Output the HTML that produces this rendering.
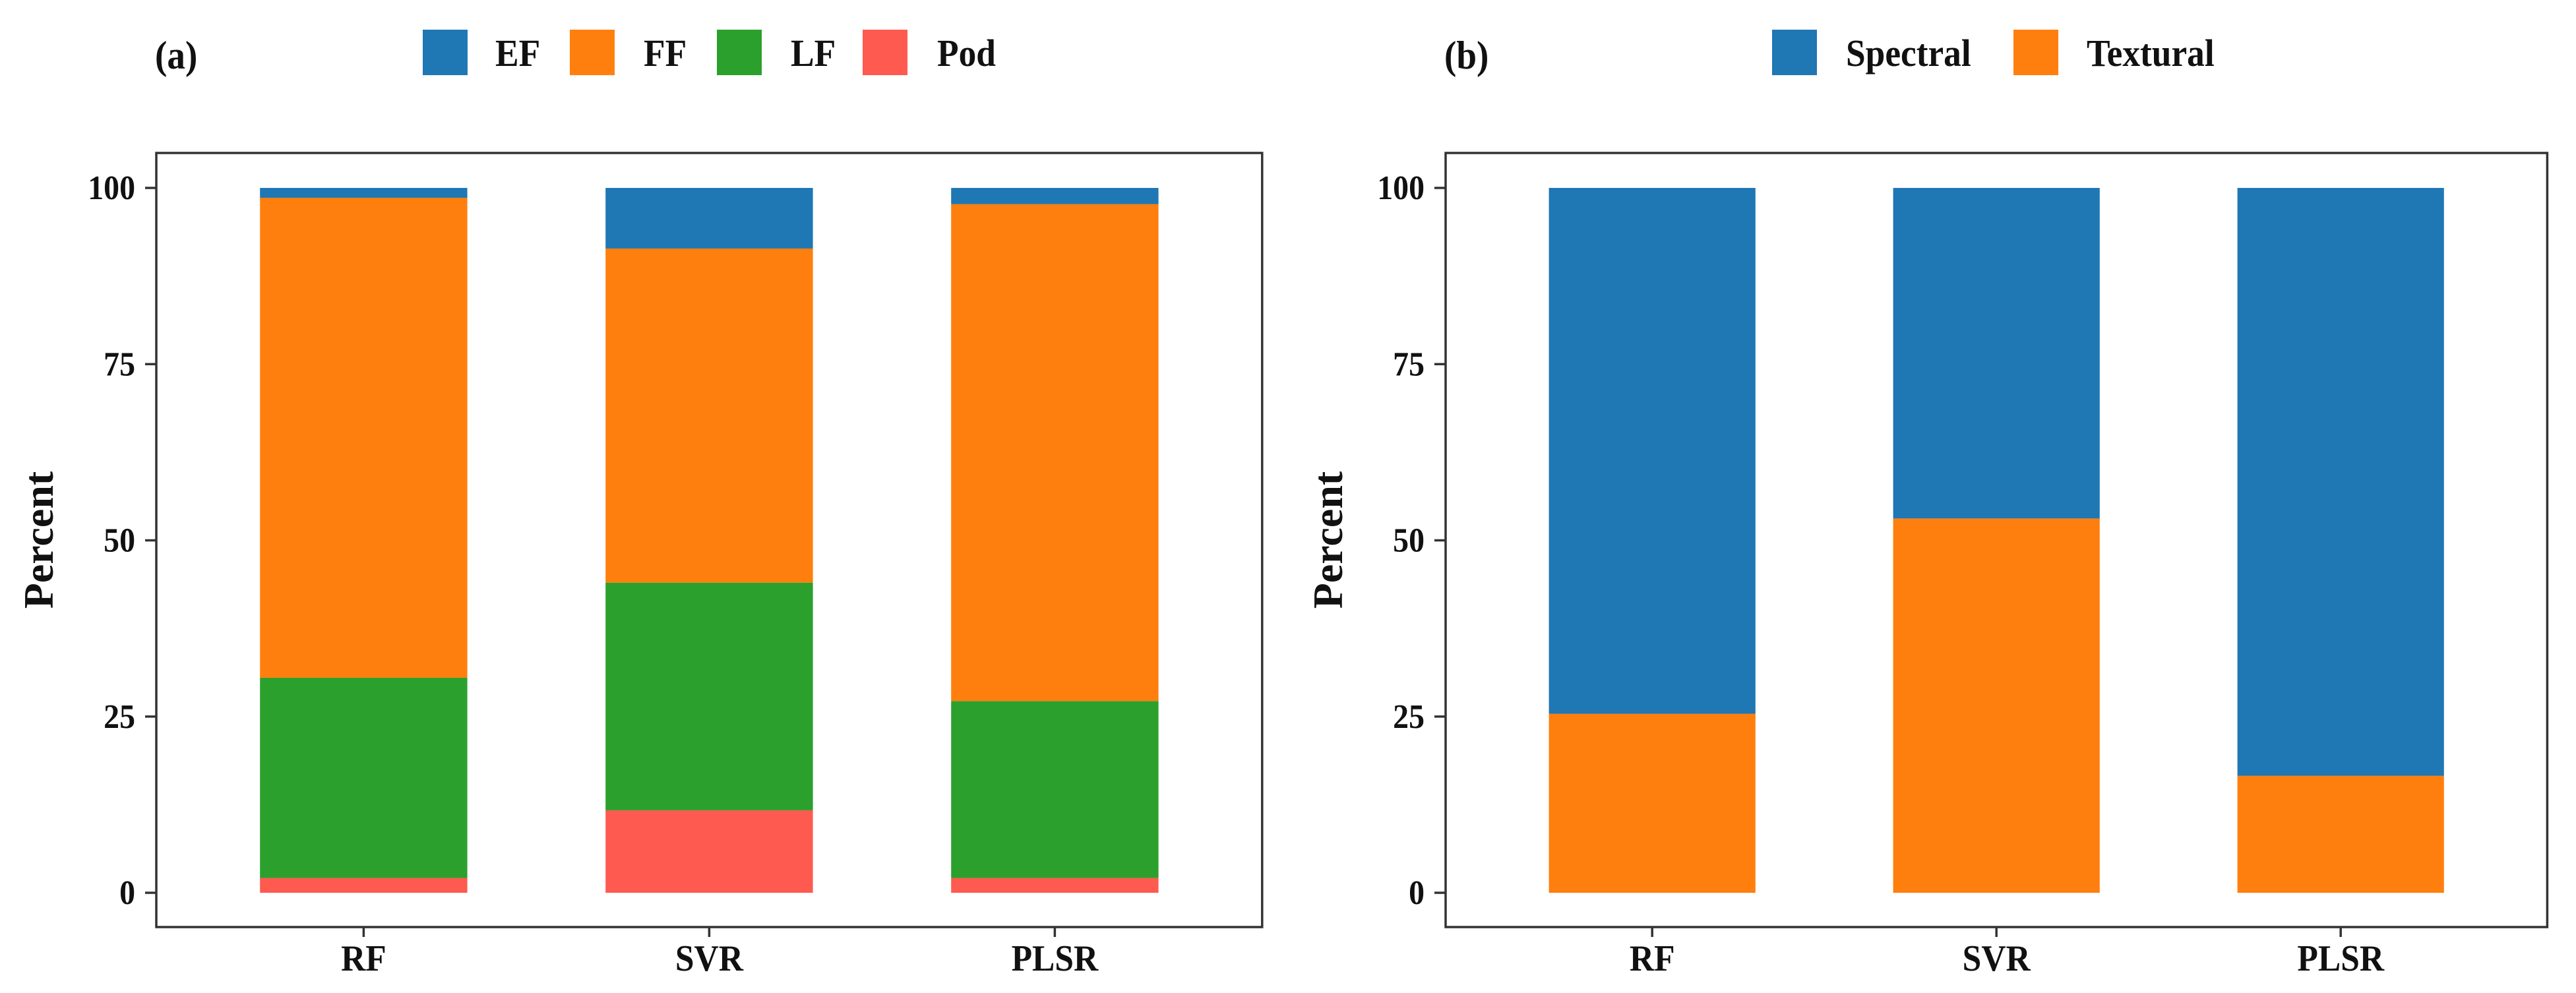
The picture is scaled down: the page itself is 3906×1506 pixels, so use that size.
<!DOCTYPE html>
<html><head><meta charset="utf-8"><style>
html,body{margin:0;padding:0;background:#fff;}
svg{display:block;font-family:"Liberation Serif",serif;font-weight:bold;}
</style></head><body>
<svg id="chart" width="3906" height="1506" viewBox="0 0 3906 1506" xmlns="http://www.w3.org/2000/svg"></svg>
<script>
const categories = ["RF", "SVR", "PLSR"];
const yTicks = [0, 25, 50, 75, 100];
const seriesA = ["Pod", "LF", "FF", "EF"];
const podValues = [2.1, 11.7, 2.1];
const lfValues = [28.4, 32.3, 25.1];
const ffValues = [68.1, 47.4, 70.5];
const efValues = [1.4, 8.6, 2.3];
const seriesB = ["Textural", "Spectral"];
const texturalValues = [25.4, 53.1, 16.6];
const spectralValues = [74.6, 46.9, 83.4];

const colors = {EF:"#1f77b4", FF:"#ff7f0e", LF:"#2ca02c", Pod:"#ff5a50", Spectral:"#1f77b4", Textural:"#ff7f0e"};
const svg = document.getElementById('chart');
const NS = "http://www.w3.org/2000/svg";
const SX = 0.92;
function mk(tag, attrs, parent){const e=document.createElementNS(NS,tag);for(const k in attrs)e.setAttribute(k,attrs[k]);(parent||svg).appendChild(e);return e;}
function txt(x, y, s, size, anchor, parent){
  const e = mk('text', {x: 0, y: 0, transform: `translate(${x},${y}) scale(${SX},1)`, 'text-anchor': anchor, 'font-size': size, fill: '#111'}, parent);
  e.textContent = s;
  return e;
}

function panel(offsetX, unit, label, seriesNames, seriesVals, legend){
  const g = mk('g', {});
  
  
  const left = 237 + offsetX;
  const y0 = 1354, y100 = 285;
  const yScale = v => y0 + (y100 - y0) * v / 100;
  const xScale = i => left + unit * (i + 0.6);
  const barW = unit * 0.6;
  const top = 232, bottom = 1406, right = left + unit * 3.2;
  categories.forEach((c, i) => {
    let base = 0;
    seriesNames.forEach((s, si) => {
      const v = seriesVals[si][i];
      const r = mk('rect', {x: xScale(i) - barW/2, y: yScale(base + v), width: barW, height: yScale(base) - yScale(base + v), fill: colors[s]}, g);
      
      
      base += v;
    });
  });
  const fr = mk('rect', {x: left, y: top, width: right - left, height: bottom - top, fill: 'none', stroke: '#333', 'stroke-width': 3.5}, g);
  
  
  yTicks.forEach(t => {
    const y = yScale(t);
    const l = mk('line', {x1: left - 17, x2: left, y1: y, y2: y, stroke: '#333', 'stroke-width': 3.5}, g);
    
    
    const tx = txt(left - 32, y + 17, String(t), 52, 'end', g);
    
    
  });
  categories.forEach((c, i) => {
    const x = xScale(i);
    const l = mk('line', {x1: x, x2: x, y1: bottom, y2: bottom + 15, stroke: '#333', 'stroke-width': 3.5}, g);
    
    
    const tx = txt(x, 1472, c, 56, 'middle', g);
    
    
  });
  const yt = mk('text', {x: 0, y: 0, transform: `translate(${offsetX + 80},${(top + bottom) / 2}) rotate(-90)`, 'text-anchor': 'middle', 'font-size': 64, fill: '#111'}, g);
  yt.textContent = 'Percent';
  
  
  const pl = txt(offsetX + 235, 104, label, 60, 'start', g);
  
  
  legend.forEach(it => {
    const r = mk('rect', {x: it.sx, y: 45, width: 68, height: 69, fill: colors[it.name]}, g);
    
    
    const tx = txt(it.tx, 100, it.name, 58, 'start', g);
    
    
  });
}
panel(0, 524, '(a)', seriesA, [podValues, lfValues, ffValues, efValues],
  [{name:'EF', sx:641, tx:751}, {name:'FF', sx:864, tx:976}, {name:'LF', sx:1087, tx:1199}, {name:'Pod', sx:1308, tx:1421}]);
panel(1955, 522, '(b)', seriesB, [texturalValues, spectralValues],
  [{name:'Spectral', sx:2687, tx:2799}, {name:'Textural', sx:3053, tx:3164}]);
</script>
</body></html>
